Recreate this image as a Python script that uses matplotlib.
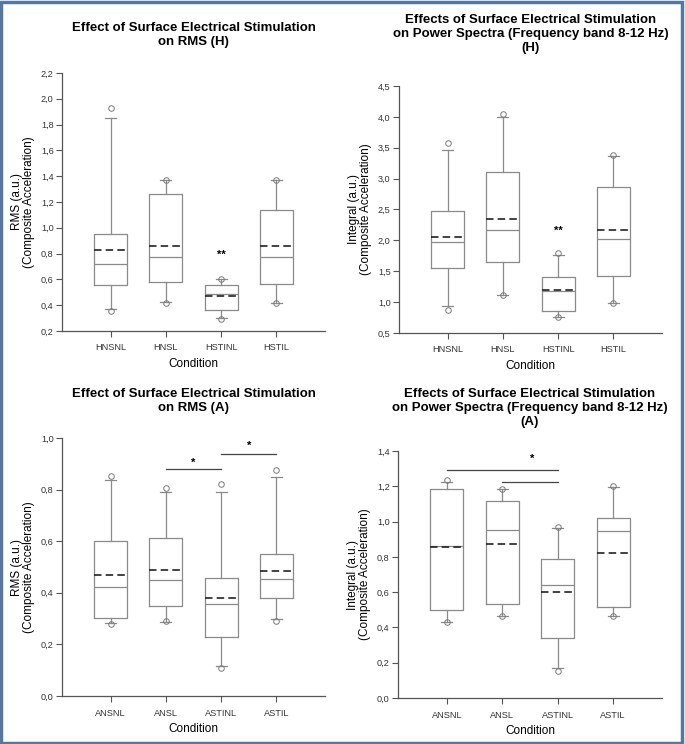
import numpy as np
import matplotlib
matplotlib.use("Agg")
import matplotlib.pyplot as plt
from matplotlib.patches import Rectangle
from matplotlib.ticker import FuncFormatter

plt.rcParams['font.family'] = ['Liberation Sans', 'DejaVu Sans']

# ---- data ----
cats_h = ["HNSNL", "HNSL", "HSTINL", "HSTIL"]
cats_a = ["ANSNL", "ANSL", "ASTINL", "ASTIL"]

# RMS (H)
rms_h_q1 = [0.555, 0.583, 0.36, 0.562]
rms_h_med = [0.717, 0.777, 0.49, 0.772]
rms_h_q3 = [0.95, 1.262, 0.553, 1.14]
rms_h_mean = [0.826, 0.857, 0.472, 0.857]
rms_h_lo = [0.373, 0.428, 0.298, 0.42]
rms_h_hi = [1.853, 1.372, 0.60, 1.372]
rms_h_out = [[0.353, 1.93], [0.42, 1.37], [0.292, 0.60], [0.415, 1.37]]

# Power spectra (H)
ps_h_q1 = [1.555, 1.656, 0.86, 1.43]
ps_h_med = [1.97, 2.167, 1.18, 2.03]
ps_h_q3 = [2.47, 3.105, 1.41, 2.86]
ps_h_mean = [2.05, 2.34, 1.19, 2.17]
ps_h_lo = [0.935, 1.12, 0.76, 0.98]
ps_h_hi = [3.47, 4.0, 1.76, 3.36]
ps_h_out = [[0.87, 3.57], [1.11, 4.04], [0.76, 1.80], [0.98, 3.38]]

# RMS (A)
rms_a_q1 = [0.304, 0.348, 0.228, 0.378]
rms_a_med = [0.422, 0.449, 0.356, 0.455]
rms_a_q3 = [0.602, 0.614, 0.456, 0.55]
rms_a_mean = [0.47, 0.487, 0.378, 0.485]
rms_a_lo = [0.282, 0.288, 0.116, 0.298]
rms_a_hi = [0.838, 0.789, 0.79, 0.848]
rms_a_out = [[0.28, 0.853], [0.29, 0.806], [0.107, 0.82], [0.292, 0.876]]

# Power spectra (A)
ps_a_q1 = [0.498, 0.532, 0.34, 0.513]
ps_a_med = [0.864, 0.951, 0.638, 0.947]
ps_a_q3 = [1.183, 1.119, 0.79, 1.019]
ps_a_mean = [0.855, 0.872, 0.598, 0.821]
ps_a_lo = [0.43, 0.466, 0.168, 0.462]
ps_a_hi = [1.226, 1.185, 0.966, 1.194]
ps_a_out = [[0.43, 1.234], [0.462, 1.185], [0.151, 0.968], [0.462, 1.20]]

title_rms_h = "Effect of Surface Electrical Stimulation\non RMS (H)"
title_ps_h = "Effects of Surface Electrical Stimulation\non Power Spectra (Frequency band 8-12 Hz)\n(H)"
title_rms_a = "Effect of Surface Electrical Stimulation\non RMS (A)"
title_ps_a = "Effects of Surface Electrical Stimulation\non Power Spectra (Frequency band 8-12 Hz)\n(A)"
ylab_rms = "RMS (a.u.)\n(Composite Acceleration)"
ylab_ps = "Integral (a.u.)\n(Composite Acceleration)"

W, H = 685, 744
fig = plt.figure(figsize=(W / 100, H / 100), dpi=100)

box_c = '#8a8a8a'
axis_c = '#555555'


def stats(q1, med, q3, mean, lo, hi, out):
    res = []
    for i in range(len(q1)):
        res.append(dict(q1=q1[i], med=med[i], q3=q3[i], mean=mean[i],
                        whislo=lo[i], whishi=hi[i], fliers=out[i]))
    return res


def panel(rect, st, cats, ticks, ylabel, title, title_top):
    ax = fig.add_axes(rect)
    pos = np.arange(1, len(cats) + 1)
    ax.bxp(st, positions=pos, widths=0.6, capwidths=0.2,
           showmeans=True, meanline=True,
           boxprops=dict(color=box_c, lw=0.9),
           whiskerprops=dict(color=box_c, lw=0.9),
           capprops=dict(color=box_c, lw=0.9),
           medianprops=dict(color=box_c, lw=0.9),
           meanprops=dict(color='#222222', lw=1.2, linestyle=(0, (4.5, 2.5))),
           flierprops=dict(marker='o', markersize=4, markerfacecolor='none',
                           markeredgecolor='#7a7a7a', markeredgewidth=0.7))
    ax.set_xlim(0.12, 4.88)
    ax.set_ylim(ticks[0], ticks[-1])
    ax.set_yticks(ticks)
    ax.yaxis.set_major_formatter(FuncFormatter(lambda v, p: ("%.1f" % v).replace('.', ',')))
    ax.set_xticks(pos)
    ax.set_xticklabels(cats)
    for s in ['top', 'right']:
        ax.spines[s].set_visible(False)
    for s in ['left', 'bottom']:
        ax.spines[s].set_color(axis_c)
        ax.spines[s].set_linewidth(0.9)
    ax.tick_params(axis='both', colors=axis_c, length=4, width=0.8,
                   labelsize=6.6, labelcolor='#333333', pad=2)
    ax.tick_params(axis='x', pad=5)
    ax.set_ylabel(ylabel, fontsize=8.5, labelpad=4, linespacing=1.0)
    ax.set_xlabel("Condition", fontsize=8.5, labelpad=4)
    cx = rect[0] + rect[2] / 2
    fig.text(cx, 1 - title_top / H, title, ha='center', va='top',
             fontsize=9.5, fontweight='bold', linespacing=1.25)
    return ax


ax1 = panel([62 / W, 1 - 331 / H, 263 / W, 258 / H],
            stats(rms_h_q1, rms_h_med, rms_h_q3, rms_h_mean, rms_h_lo, rms_h_hi, rms_h_out),
            cats_h, np.arange(0.2, 2.21, 0.2), ylab_rms, title_rms_h, 22)
ax1.text(3, 0.79, "**", ha='center', va='center', fontsize=8, fontweight='bold')

ax2 = panel([399 / W, 1 - 333 / H, 263 / W, 247 / H],
            stats(ps_h_q1, ps_h_med, ps_h_q3, ps_h_mean, ps_h_lo, ps_h_hi, ps_h_out),
            cats_h, np.arange(0.5, 4.51, 0.5), ylab_ps, title_ps_h, 14)
ax2.text(3, 2.16, "**", ha='center', va='center', fontsize=8, fontweight='bold')

ax3 = panel([62 / W, 1 - 696 / H, 263 / W, 258 / H],
            stats(rms_a_q1, rms_a_med, rms_a_q3, rms_a_mean, rms_a_lo, rms_a_hi, rms_a_out),
            cats_a, np.arange(0.0, 1.01, 0.2), ylab_rms, title_rms_a, 388)
ax3.plot([2, 3], [0.88, 0.88], color='#444444', lw=0.9)
ax3.plot([3, 4], [0.938, 0.938], color='#444444', lw=0.9)
ax3.text(2.5, 0.905, "*", ha='center', va='center', fontsize=8, fontweight='bold')
ax3.text(3.5, 0.97, "*", ha='center', va='center', fontsize=8, fontweight='bold')

ax4 = panel([398 / W, 1 - 698 / H, 264 / W, 247 / H],
            stats(ps_a_q1, ps_a_med, ps_a_q3, ps_a_mean, ps_a_lo, ps_a_hi, ps_a_out),
            cats_a, np.arange(0.0, 1.41, 0.2), ylab_ps, title_ps_a, 388)
ax4.plot([1, 3], [1.294, 1.294], color='#444444', lw=0.9)
ax4.plot([2, 3], [1.225, 1.225], color='#444444', lw=0.9)
ax4.text(2.54, 1.355, "*", ha='center', va='center', fontsize=8, fontweight='bold')

# frame around the whole figure
fig.patches.append(Rectangle((0.002, 0.002), 0.993, 0.995, transform=fig.transFigure,
                             fill=False, edgecolor='#58779e', lw=2.5))

fig.savefig("out.png", dpi=100)
